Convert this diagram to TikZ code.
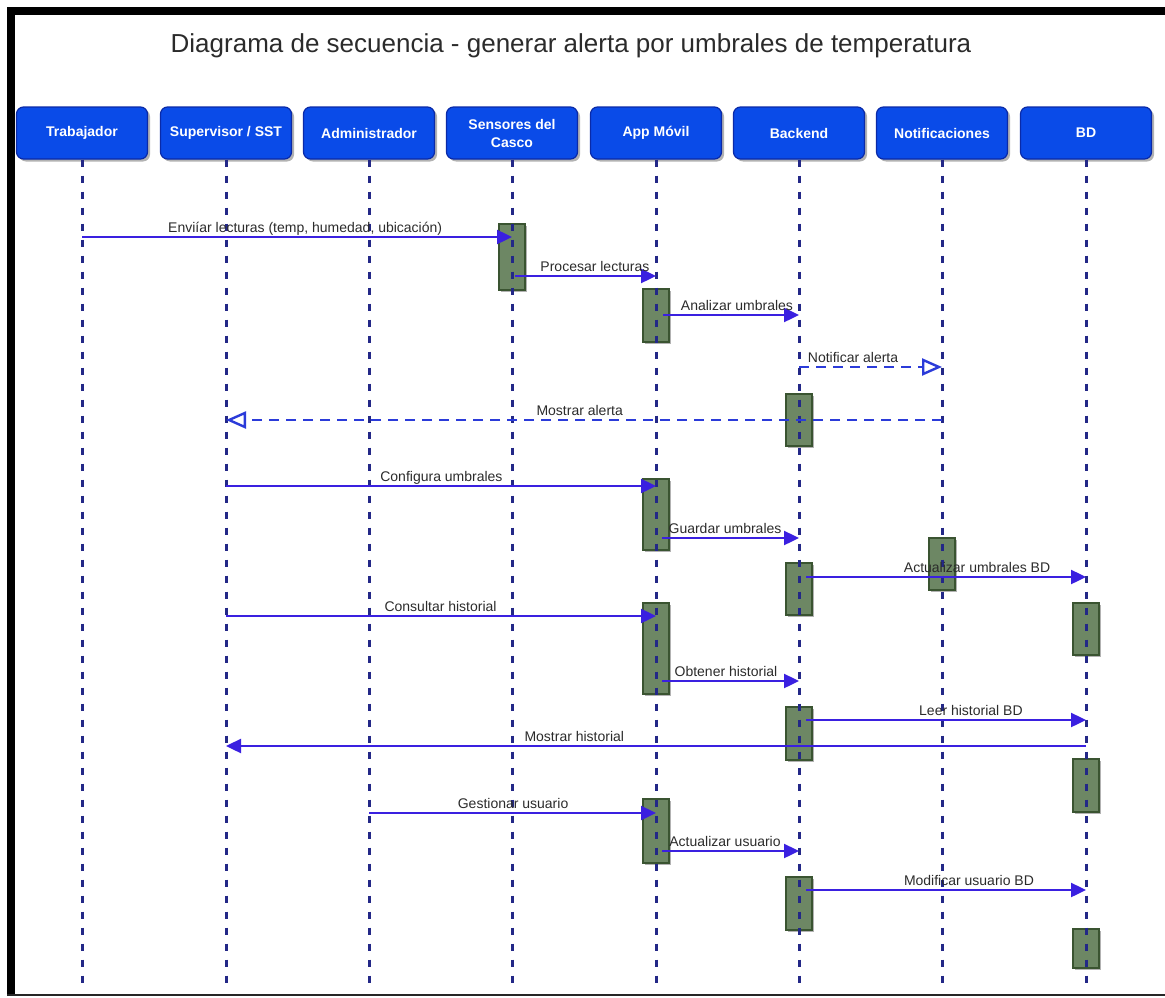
\documentclass[tikz,border=0pt]{standalone}
\usepackage{fontspec}
\setmainfont{Liberation Sans}
\usetikzlibrary{arrows.meta,shadows,calc}
\definecolor{hdrfill}{HTML}{0A4BE8}
\definecolor{hdrdraw}{HTML}{0A2AA8}
\definecolor{actfill}{HTML}{6D8764}
\definecolor{actdraw}{HTML}{3A5431}
\definecolor{lifecol}{HTML}{232887}
\definecolor{msgcol}{HTML}{3A20E0}
\definecolor{retcol}{HTML}{2B3BD9}
\definecolor{txtcol}{HTML}{2B2B2B}

\begin{document}
\begin{tikzpicture}[x=1pt,y=-1pt,
  actor/.style={draw=hdrdraw, line width=1.2pt, fill=hdrfill, rounded corners=7pt,
    minimum width=131pt, minimum height=52pt, text=white,
    font=\fontsize{14}{18}\selectfont\bfseries, align=center, inner sep=2pt,
    drop shadow={shadow xshift=2.5pt, shadow yshift=-2.5pt, opacity=0.3, fill=black}},
  act/.style={draw=actdraw, line width=1.2pt, fill=actfill, minimum width=26pt, inner sep=0pt,
    drop shadow={shadow xshift=2pt, shadow yshift=-2pt, opacity=0.3, fill=black}},
  lifeline/.style={draw=lifecol, line width=3pt, dash pattern=on 7pt off 9pt},
  msg/.style={draw=msgcol, line width=2.4pt, -{Triangle[length=15pt,width=14pt]}},
  ret/.style={draw=retcol, line width=2.4pt, dash pattern=on 10pt off 7pt,
    -{Triangle[open,length=20pt,width=17pt]}},
  lbl/.style={text=txtcol, font=\fontsize{14}{16}\selectfont, anchor=base, yshift=5pt, inner sep=0pt}
]
\useasboundingbox (0,0) rectangle (1165,998);

% frame
\fill[black] (7,7) rectangle (1165,15);
\fill[black] (7,7) rectangle (15,996);
\draw[black!85, line width=2pt] (7,995) -- (1165,995);

% title
\node[font=\fontsize{26}{30}\selectfont, text=txtcol, anchor=base] (title) at (571,53)
  {Diagrama de secuencia - generar alerta por umbrales de temperatura};

% participants
\node[actor] (trab)  at (82,133)   {Trabajador};
\node[actor] (sup)   at (226,133)  {Supervisor / SST};
\node[actor] (adm)   at (369,133)  {Administrador};
\node[actor] (sens)  at (512,133)  {Sensores del\\Casco};
\node[actor] (app)   at (656,133)  {App Móvil};
\node[actor] (back)  at (799,133)  {Backend};
\node[actor] (notif) at (942,133)  {Notificaciones};
\node[actor] (bd)    at (1086,133) {BD};

% activation bars
\node[act, minimum height=66pt] (a1)  at (sens |- 0,257)   {};
\node[act, minimum height=53pt] (a2)  at (app |- 0,315.5)  {};
\node[act, minimum height=52pt] (a3)  at (back |- 0,420)   {};
\node[act, minimum height=71pt] (a4)  at (app |- 0,514.5)  {};
\node[act, minimum height=52pt] (a5)  at (notif |- 0,564)  {};
\node[act, minimum height=52pt] (a6)  at (back |- 0,589)   {};
\node[act, minimum height=52pt] (a7)  at (bd |- 0,629)     {};
\node[act, minimum height=91pt] (a8)  at (app |- 0,648.5)  {};
\node[act, minimum height=53pt] (a9)  at (back |- 0,733.5) {};
\node[act, minimum height=53pt] (a10) at (bd |- 0,785.5)   {};
\node[act, minimum height=64pt] (a11) at (app |- 0,831)    {};
\node[act, minimum height=53pt] (a12) at (back |- 0,903.5) {};
\node[act, minimum height=39pt] (a13) at (bd |- 0,948.5)   {};

% lifelines
\foreach \p in {trab,sup,adm,sens,app,back,notif,bd}{
  \coordinate (\p-end) at (\p |- 0,983);
  \draw[lifeline] (\p.south) -- (\p-end);
}

% message end points
\coordinate (m1a) at (trab |- 0,237);            \coordinate (m1b) at (sens |- 0,237);
\coordinate (m2a) at ($(sens |- 0,276)+(3,0)$);   \coordinate (m2b) at (app |- 0,276);
\coordinate (m3a) at ($(app |- 0,315)+(7,0)$);    \coordinate (m3b) at (back |- 0,315);
\coordinate (m4a) at (back |- 0,367);            \coordinate (m4b) at (notif |- 0,367);
\coordinate (m5a) at (notif |- 0,420);           \coordinate (m5b) at (sup |- 0,420);
\coordinate (m6a) at (sup |- 0,486);             \coordinate (m6b) at (app |- 0,486);
\coordinate (m7a) at ($(app |- 0,538)+(6,0)$);    \coordinate (m7b) at (back |- 0,538);
\coordinate (m8a) at ($(back |- 0,577)+(7,0)$);   \coordinate (m8b) at (bd |- 0,577);
\coordinate (m9a) at (sup |- 0,616);             \coordinate (m9b) at (app |- 0,616);
\coordinate (m10a) at ($(app |- 0,681)+(6,0)$);   \coordinate (m10b) at (back |- 0,681);
\coordinate (m11a) at ($(back |- 0,720)+(7,0)$);  \coordinate (m11b) at (bd |- 0,720);
\coordinate (m12a) at (bd |- 0,746);             \coordinate (m12b) at (sup |- 0,746);
\coordinate (m13a) at (adm |- 0,813);            \coordinate (m13b) at (app |- 0,813);
\coordinate (m14a) at ($(app |- 0,851)+(6,0)$);   \coordinate (m14b) at (back |- 0,851);
\coordinate (m15a) at ($(back |- 0,890)+(7,0)$);  \coordinate (m15b) at (bd |- 0,890);

% messages
\draw[msg] (m1a) -- node[lbl,pos=0.519] {Enviíar lecturas (temp, humedad, ubicación)} (m1b);
\draw[msg] (m2a) -- node[lbl,pos=0.567] {Procesar lecturas} (m2b);
\draw[msg] (m3a) -- node[lbl,pos=0.544] {Analizar umbrales} (m3b);
\draw[ret] (m4a) -- node[lbl,pos=0.378] {Notificar alerta} (m4b);
\draw[ret] (m5a) -- node[lbl,pos=0.506] {Mostrar alerta} (m5b);
\draw[msg] (m6a) -- node[lbl,pos=0.501] {Configura umbrales} (m6b);
\draw[msg] (m7a) -- node[lbl,pos=0.46] {Guardar umbrales} (m7b);
\draw[msg] (m8a) -- node[lbl,pos=0.611] {Actualizar umbrales BD} (m8b);
\draw[msg] (m9a) -- node[lbl,pos=0.499] {Consultar historial} (m9b);
\draw[msg] (m10a) -- node[lbl,pos=0.467] {Obtener historial} (m10b);
\draw[msg] (m11a) -- node[lbl,pos=0.589] {Leer historial BD} (m11b);
\draw[msg] (m12a) -- node[lbl,pos=0.595] {Mostrar historial} (m12b);
\draw[msg] (m13a) -- node[lbl,pos=0.502] {Gestionar usuario} (m13b);
\draw[msg] (m14a) -- node[lbl,pos=0.46] {Actualizar usuario} (m14b);
\draw[msg] (m15a) -- node[lbl,pos=0.582] {Modificar usuario BD} (m15b);
\end{tikzpicture}
\end{document}
